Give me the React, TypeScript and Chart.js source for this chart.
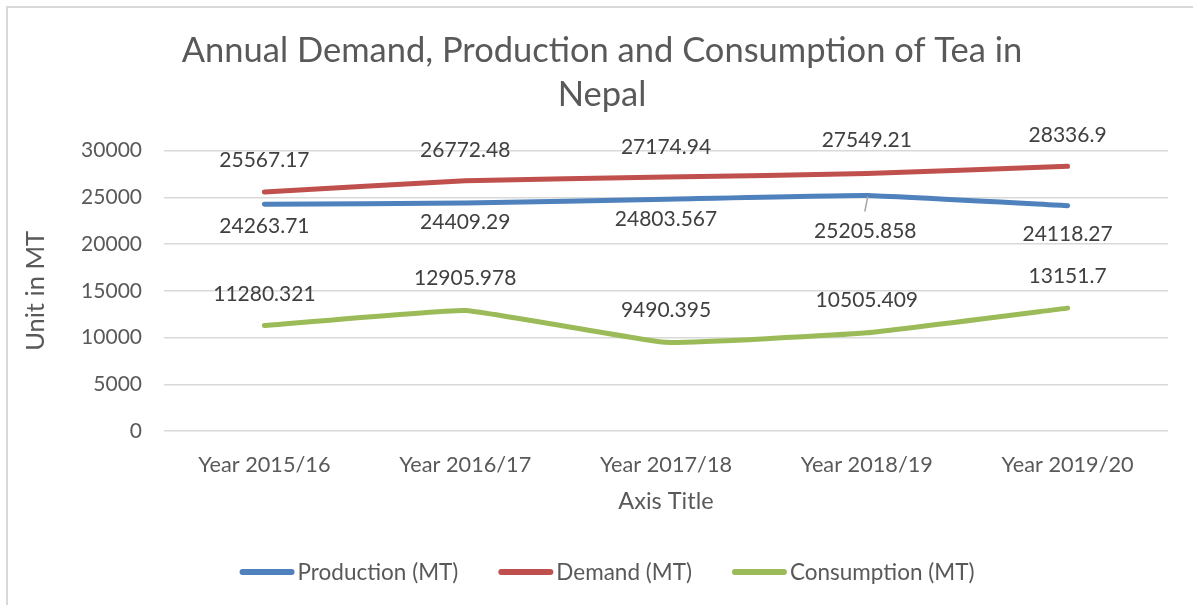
import React, { useEffect, useRef } from "react";
import { Chart, registerables } from "chart.js";

Chart.register(...registerables);

const categories = ["Year 2015/16", "Year 2016/17", "Year 2017/18", "Year 2018/19", "Year 2019/20"];
const production = [24263.71, 24409.29, 24803.567, 25205.858, 24118.27];
const demand = [25567.17, 26772.48, 27174.94, 27549.21, 28336.9];
const consumption = [11280.321, 12905.978, 9490.395, 10505.409, 13151.7];
const productionLabels = ["24263.71", "24409.29", "24803.567", "25205.858", "24118.27"];
const demandLabels = ["25567.17", "26772.48", "27174.94", "27549.21", "28336.9"];
const consumptionLabels = ["11280.321", "12905.978", "9490.395", "10505.409", "13151.7"];
const yTicks = [0, 5000, 10000, 15000, 20000, 25000, 30000];

// label placement (pixels above the point; negative = below)
const productionLabelOffsets = [-22, -19, -20, -36, -29];
const demandLabelOffsets = [32, 31, 30, 33, 31];
const consumptionLabelOffsets = [31, 32, 32, 33, 32];

const FONT = "Lato";
const TEXT = "#595959";
const LABEL = "#404040";
const COLORS = ["#4F81BD", "#C0504D", "#9BBB59"];

const frame = {
  id: "frame",
  beforeDraw(chart: any) {
    const { ctx, width, height } = chart;
    ctx.save();
    ctx.fillStyle = "#ffffff";
    ctx.fillRect(0, 0, width, height);
    ctx.strokeStyle = "#D9D9D9";
    ctx.lineWidth = 2;
    ctx.beginPath();
    ctx.moveTo(7, height);
    ctx.lineTo(7, 7);
    ctx.lineTo(width, 7);
    ctx.stroke();
    ctx.restore();
  },
};

const dataLabels = {
  id: "dataLabels",
  afterDatasetsDraw(chart: any) {
    const { ctx } = chart;
    ctx.save();
    ctx.font = `21px ${FONT}`;
    ctx.fillStyle = LABEL;
    ctx.textAlign = "center";
    ctx.textBaseline = "middle";
    chart.data.datasets.forEach((ds: any, i: number) => {
      const meta = chart.getDatasetMeta(i);
      meta.data.forEach((pt: any, j: number) => {
        const off = ds.labelOffsets[j];
        const ly = pt.y - off;
        if (off < -30) {
          ctx.save();
          ctx.strokeStyle = "#A6A6A6";
          ctx.lineWidth = 1.5;
          ctx.beginPath();
          ctx.moveTo(pt.x + 1, pt.y + 1);
          ctx.lineTo(pt.x - 2, ly - 20);
          ctx.stroke();
          ctx.restore();
        }
        ctx.fillText(ds.valueLabels[j], pt.x - (off < -30 ? 1.5 : 0), ly);
      });
    });
    ctx.restore();
  },
};

const legendPlugin = {
  id: "customLegend",
  afterDraw(chart: any) {
    const { ctx } = chart;
    ctx.save();
    ctx.font = `22.5px ${FONT}`;
    const lineW = 55;
    const gap = 3;
    const itemGap = 40;
    const items = chart.data.datasets.map((ds: any) => ({
      text: ds.label,
      color: ds.borderColor,
      w: lineW + gap + ctx.measureText(ds.label).width,
    }));
    const total = items.reduce((s: number, it: any) => s + it.w, 0) + itemGap * (items.length - 1);
    let x = 607 - total / 2;
    const y = 572;
    items.forEach((it: any) => {
      ctx.strokeStyle = it.color;
      ctx.lineWidth = 6;
      ctx.lineCap = "round";
      ctx.beginPath();
      ctx.moveTo(x + 3, y);
      ctx.lineTo(x + lineW - 3, y);
      ctx.stroke();
      ctx.fillStyle = TEXT;
      ctx.textAlign = "left";
      ctx.textBaseline = "middle";
      ctx.fillText(it.text, x + lineW + gap, y + 1);
      x += it.w + itemGap;
    });
    ctx.restore();
  },
};

export default function App() {
  const ref = useRef<HTMLCanvasElement>(null);
  useEffect(() => {
    const mk = (label: string, data: number[], color: string, labels: string[], offs: number[]) => ({
      label,
      data,
      borderColor: color,
      backgroundColor: color,
      borderWidth: 5,
      borderCapStyle: "round",
      borderJoinStyle: "round",
      pointRadius: 0,
      pointHoverRadius: 0,
      tension: 0.1,
      valueLabels: labels,
      labelOffsets: offs,
    });
    const chart = new Chart(ref.current as HTMLCanvasElement, {
      type: "line",
      data: {
        labels: categories,
        datasets: [
          mk("Production (MT)", production, COLORS[0], productionLabels, productionLabelOffsets),
          mk("Demand (MT)", demand, COLORS[1], demandLabels, demandLabelOffsets),
          mk("Consumption (MT)", consumption, COLORS[2], consumptionLabels, consumptionLabelOffsets),
        ] as any,
      },
      options: {
        responsive: false,
        animation: false,
        layout: { padding: { left: 36, right: 25, top: 0, bottom: 74 } },
        plugins: {
          legend: { display: false },
          tooltip: { enabled: false },
          title: {
            display: true,
            text: ["Annual Demand, Production and Consump\u200Ction of Tea in", "Nepal"],
            color: TEXT,
            font: { family: FONT, size: 34.5, weight: "normal", lineHeight: 1.3 },
            padding: { top: 28, bottom: 33 },
          },
        },
        scales: {
          x: {
            offset: true,
            grid: { display: false, drawTicks: false },
            border: { display: false },
            ticks: { color: TEXT, font: { family: FONT, size: 21.7 }, padding: 21 },
            title: {
              display: true,
              text: "Axis Title",
              color: TEXT,
              font: { family: FONT, size: 23.5 },
              padding: { top: 0, bottom: 15 },
            },
            afterFit: (s: any) => {
              s.height = 100;
            },
          },
          y: {
            min: 0,
            max: 30000,
            afterBuildTicks: (s: any) => {
              s.ticks = yTicks.map((v) => ({ value: v }));
            },
            grid: { color: "#D9D9D9", lineWidth: 1.5, drawTicks: false },
            border: { display: false },
            ticks: {
              color: TEXT,
              font: { family: FONT, size: 21 },
              padding: 22,
              callback: (v: any) => String(v),
            },
            title: {
              display: true,
              text: "Unit in MT",
              color: TEXT,
              font: { family: FONT, size: 25.5 },
              padding: { top: -16, bottom: 0 },
            },
            afterFit: (s: any) => {
              s.width = 128;
            },
          },
        },
      },
      plugins: [frame, dataLabels, legendPlugin],
    });
    return () => chart.destroy();
  }, []);
  return (
    <div style={{ position: "absolute", left: 0, top: 0, width: 1193, height: 605 }}>
      <canvas ref={ref} width={1193} height={605} style={{ display: "block", width: 1193, height: 605 }} />
    </div>
  );
}
